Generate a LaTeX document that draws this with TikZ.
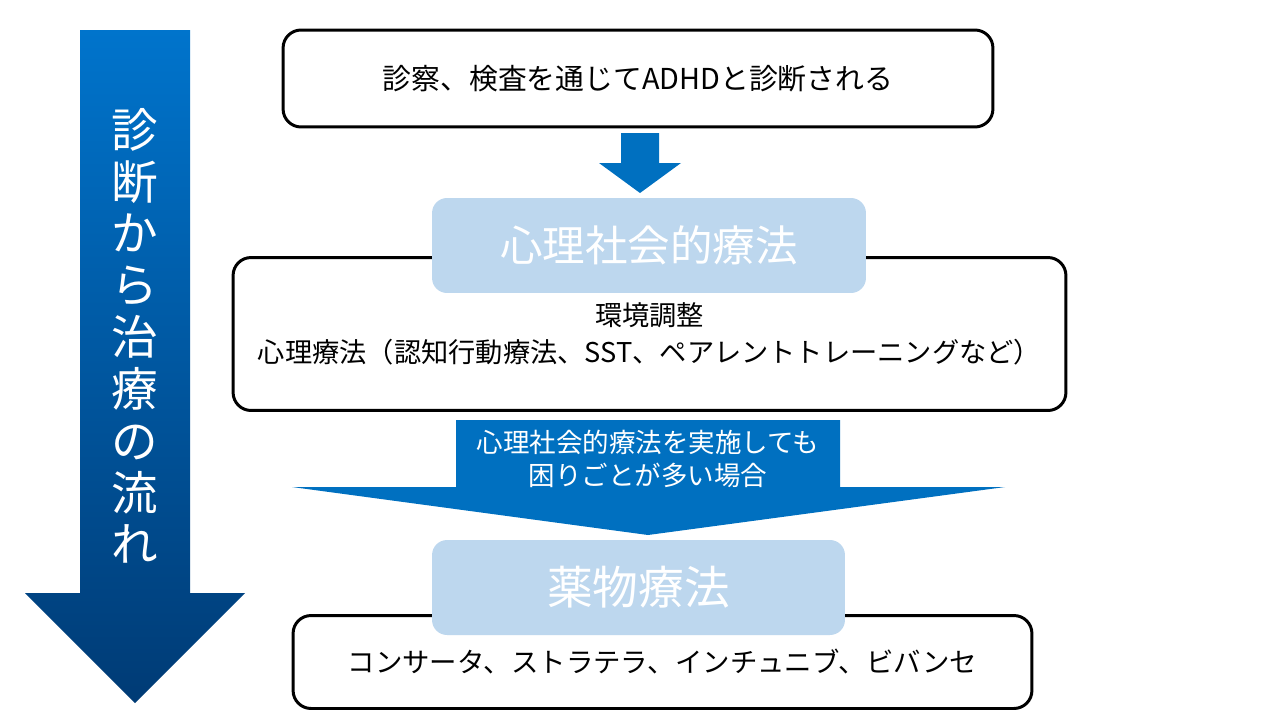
\documentclass[tikz,border=0pt]{standalone}
\usepackage{fontspec}
\setmainfont{Noto Sans CJK JP}
\usepackage[HTML]{xcolor}
\usetikzlibrary{calc}
\definecolor{flowblue}{HTML}{0070C0}
\definecolor{flowtop}{HTML}{0074CC}
\definecolor{flowbottom}{HTML}{003B75}
\definecolor{titlefill}{HTML}{BDD7EE}

\begin{document}
\begin{tikzpicture}[x=0.02cm, y=-0.02cm,
  every node/.style={align=center, inner sep=0pt},
  stagebox/.style={draw=black, line width=1.7pt, rounded corners=0.36cm, fill=white},
  titlebox/.style={fill=titlefill, rounded corners=0.3cm, text=white}]
\useasboundingbox (0,0) rectangle (1280,720);
% left flow arrow
\shade[top color=flowtop, bottom color=flowbottom] (80,30) -- (190,30) -- (190,593) -- (245,593) -- (135,703) -- (25,593) -- (80,593) -- cycle;
\node[text=white, font=\fontsize{26.5}{29.5}\selectfont] (flowlabel) at (135,336) {診\\断\\か\\ら\\治\\療\\の\\流\\れ};
% diagnosis
\node[stagebox, minimum width=14.2cm, minimum height=1.94cm, font=\fontsize{16.4}{20}\selectfont] (diagbox) at (638,78.5) {診察、検査を通じてADHDと診断される};
% small arrow
\coordinate (diagout) at (640,133);
\fill[flowblue] (diagout) ++(-19,0) -- ++(38,0) -- ++(0,30) -- ++(22,0) -- ($(diagout)+(0,60)$) -- ++(-41,-30) -- ++(22,0) -- cycle;
% psychosocial therapy
\node[stagebox, minimum width=16.66cm, minimum height=3.06cm, font=\fontsize{15.5}{21}\selectfont] (psybox) at (649.5,334) {環境調整\\心理療法（認知行動療法、SST、ペアレントトレーニングなど）};
\node[titlebox, minimum width=8.68cm, minimum height=1.9cm, font=\fontsize{24.2}{28}\selectfont] (psytitle) at (649,245.5) {心理社会的療法};
% wide arrow
\coordinate (psyout) at (648,420);
\fill[flowblue] (psyout) ++(-192,0) -- ++(384,0) -- ++(0,67) -- ++(165,0) -- ($(psyout)+(0,115)$) -- ++(-356,-48) -- ++(164,0) -- cycle;
\node[text=white, font=\fontsize{15.1}{18.7}\selectfont] (condtext) at (648,459) {心理社会的療法を実施しても\\困りごとが多い場合};
% medication
\node[stagebox, minimum width=14.78cm, minimum height=1.86cm, font=\fontsize{15.6}{20}\selectfont] (medbox) at (662.5,662) {コンサータ、ストラテラ、インチュニブ、ビバンセ};
\node[titlebox, minimum width=8.26cm, minimum height=1.9cm, font=\fontsize{26}{30}\selectfont] (medtitle) at (638.5,587.5) {薬物療法};
\end{tikzpicture}
\end{document}
